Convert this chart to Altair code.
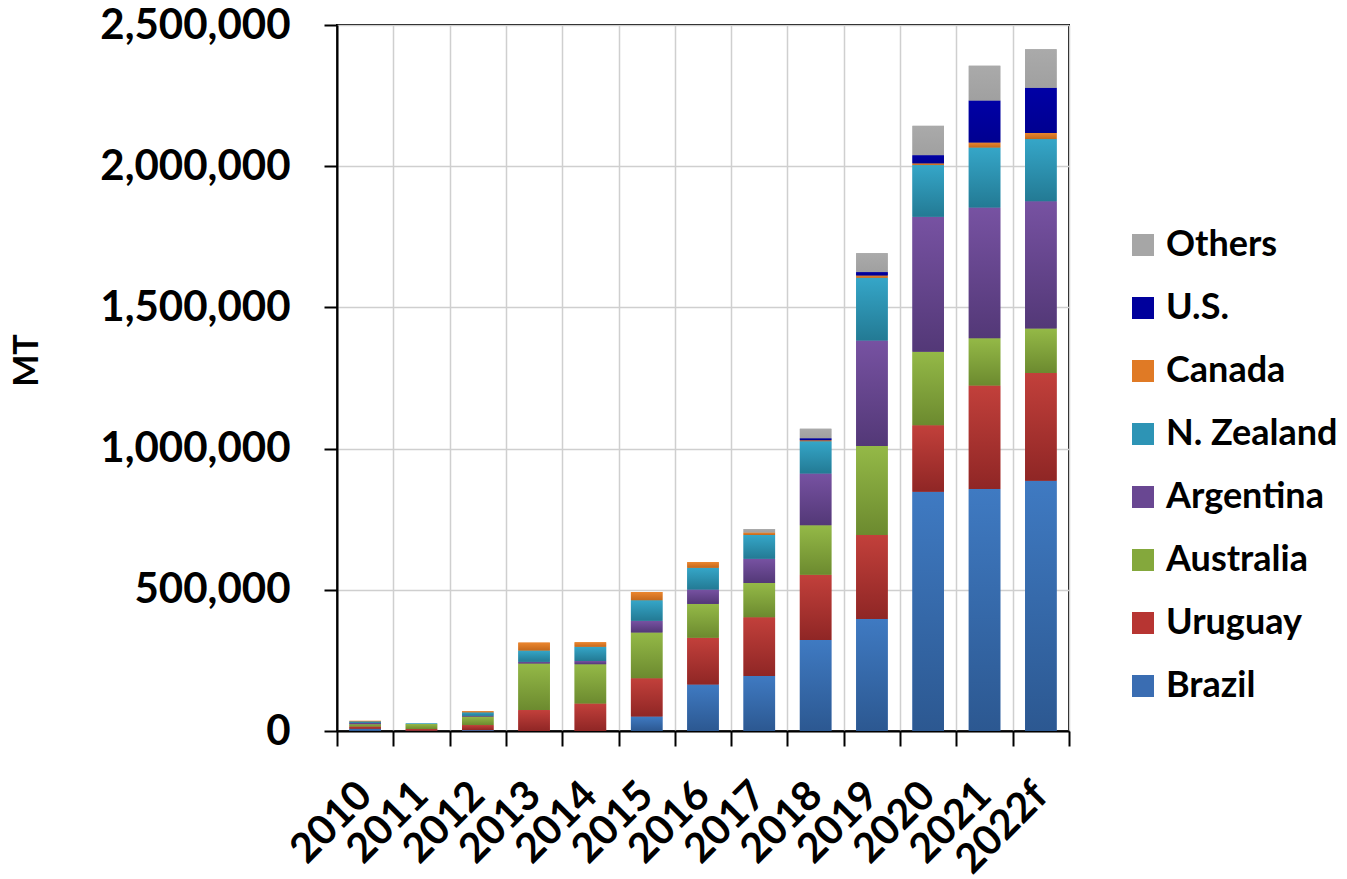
import altair as alt
import pandas as pd

# Lamb import volumes (MT) by supplier, 2010 to 2022 forecast
years = ["2010", "2011", "2012", "2013", "2014", "2015", "2016",
         "2017", "2018", "2019", "2020", "2021", "2022f"]

brazil = [8000, 1000, 3000, 0, 0, 51000, 165000, 195000, 322000, 397000, 847000, 857000, 886000]
uruguay = [8000, 6000, 18000, 74000, 97000, 136000, 165000, 208000, 231000, 297000, 236000, 366000, 382000]
australia = [8000, 18000, 30000, 165000, 139000, 162000, 120000, 121000, 176000, 315000, 260000, 168000, 157000]
argentina = [5000, 0, 3000, 6000, 12000, 41000, 51000, 86000, 183000, 374000, 478000, 463000, 451000]
new_zealand = [5000, 2000, 12000, 40000, 50000, 73000, 77000, 84000, 114000, 222000, 183000, 212000, 220000]
canada = [2000, 0, 4000, 28000, 16000, 29000, 20000, 9000, 4000, 8000, 6000, 18000, 22000]
us = [0, 0, 0, 0, 0, 0, 0, 0, 7000, 12000, 29000, 149000, 160000]
others = [0, 0, 0, 0, 0, 0, 0, 12000, 33000, 67000, 104000, 123000, 136000]

# stacking order, bottom to top
series = [
    ("Brazil", brazil),
    ("Uruguay", uruguay),
    ("Australia", australia),
    ("Argentina", argentina),
    ("N. Zealand", new_zealand),
    ("Canada", canada),
    ("U.S.", us),
    ("Others", others),
]

# (flat, gradient top, gradient bottom)
palette = {
    "Brazil": ("#3A6DB2", "#3F7AC2", "#2C5891"),
    "Uruguay": ("#B73532", "#C2403B", "#8F2625"),
    "Australia": ("#84A83C", "#94B947", "#6C8A2F"),
    "Argentina": ("#694792", "#7752A2", "#533877"),
    "N. Zealand": ("#2D94B5", "#35A6C8", "#237A94"),
    "Canada": ("#E07A25", "#EB862E", "#C4681C"),
    "U.S.": ("#00009C", "#0000A6", "#000090"),
    "Others": ("#A6A6A6", "#AAAAAA", "#A0A0A0"),
}

rows = []
for rank, (name, vals) in enumerate(series):
    for yr, v in zip(years, vals):
        rows.append({"year": yr, "country": name, "value": v, "rank": rank})
df = pd.DataFrame(rows)

legend_order = [name for name, _ in reversed(series)]
FONT = "Lato"

x_enc = alt.X(
    "year:N",
    sort=years,
    scale=alt.Scale(paddingInner=0, paddingOuter=0),
    axis=alt.Axis(
        title=None,
        tickBand="extent",
        grid=True,
        gridColor="#CFCFCF",
        gridWidth=1.5,
        domainColor="black",
        domainWidth=2,
        tickColor="black",
        tickWidth=2,
        tickSize=15,
        labelAngle=-45,
        labelAlign="right",
        labelBaseline="middle",
        labelPadding=43,
        labelFont=FONT,
        labelFontWeight="bold",
        labelFontSize=41,
        labelColor="black",
        labelLimit=400,
        labelOverlap=False,
    ),
)

y_enc = alt.Y(
    "y0:Q",
    scale=alt.Scale(domain=[0, 2500000], nice=False),
    axis=alt.Axis(
        title="MT",
        values=[0, 500000, 1000000, 1500000, 2000000, 2500000],
        format=",d",
        grid=True,
        gridColor="#CFCFCF",
        gridWidth=1.5,
        domainColor="black",
        domainWidth=2,
        tickColor="black",
        tickWidth=2,
        tickSize=13,
        labelPadding=34,
        labelFont=FONT,
        labelFontWeight="bold",
        labelFontSize=42,
        labelColor="black",
        labelLimit=400,
        titleFont=FONT,
        titleFontWeight="bold",
        titleFontSize=34,
        titleColor="black",
        titleAngle=-90,
        titleX=-310,
        titleY=335,
        titleAlign="center",
        titleBaseline="middle",
    ),
)

base = alt.Chart(df).transform_stack(
    stack="value",
    groupby=["year"],
    as_=["y0", "y1"],
    sort=[alt.SortField("rank", order="ascending")],
)

bar_width = alt.RelativeBandSize(0.56)

# flat bars carry the legend
flat = base.mark_bar(width=bar_width).encode(
    x=x_enc,
    y=y_enc,
    y2="y1:Q",
    color=alt.Color(
        "country:N",
        scale=alt.Scale(domain=legend_order, range=[palette[c][0] for c in legend_order]),
        legend=alt.Legend(
            title=None,
            orient="none",
            legendX=788,
            legendY=202,
            padding=0,
            symbolType="square",
            symbolSize=484,
            symbolStrokeWidth=0,
            labelFont=FONT,
            labelFontWeight="bold",
            labelFontSize=36,
            labelColor="black",
            labelOffset=5,
            rowPadding=27,
            labelLimit=300,
        ),
    ),
)

# shaded segments drawn over the flat ones
shaded = []
for name, _ in series:
    _, top, bottom = palette[name]
    grad = alt.Gradient(
        gradient="linear",
        stops=[alt.GradientStop(color=top, offset=0), alt.GradientStop(color=bottom, offset=1)],
        x1=0, x2=0, y1=0, y2=1,
    )
    shaded.append(
        base.transform_filter(alt.datum.country == name)
        .mark_bar(width=bar_width, color=grad)
        .encode(x=x_enc, y=y_enc, y2="y1:Q")
    )

chart = (
    alt.layer(flat, *shaded)
    .properties(
        width=732,
        height=706,
        autosize=alt.AutoSizeParams(type="none"),
        padding={"left": 337, "top": 25, "right": 278, "bottom": 148},
        background="white",
    )
    .configure_view(stroke="black", strokeWidth=2)
)

chart.save("out.html", embed_options={"renderer": "svg", "actions": False})
